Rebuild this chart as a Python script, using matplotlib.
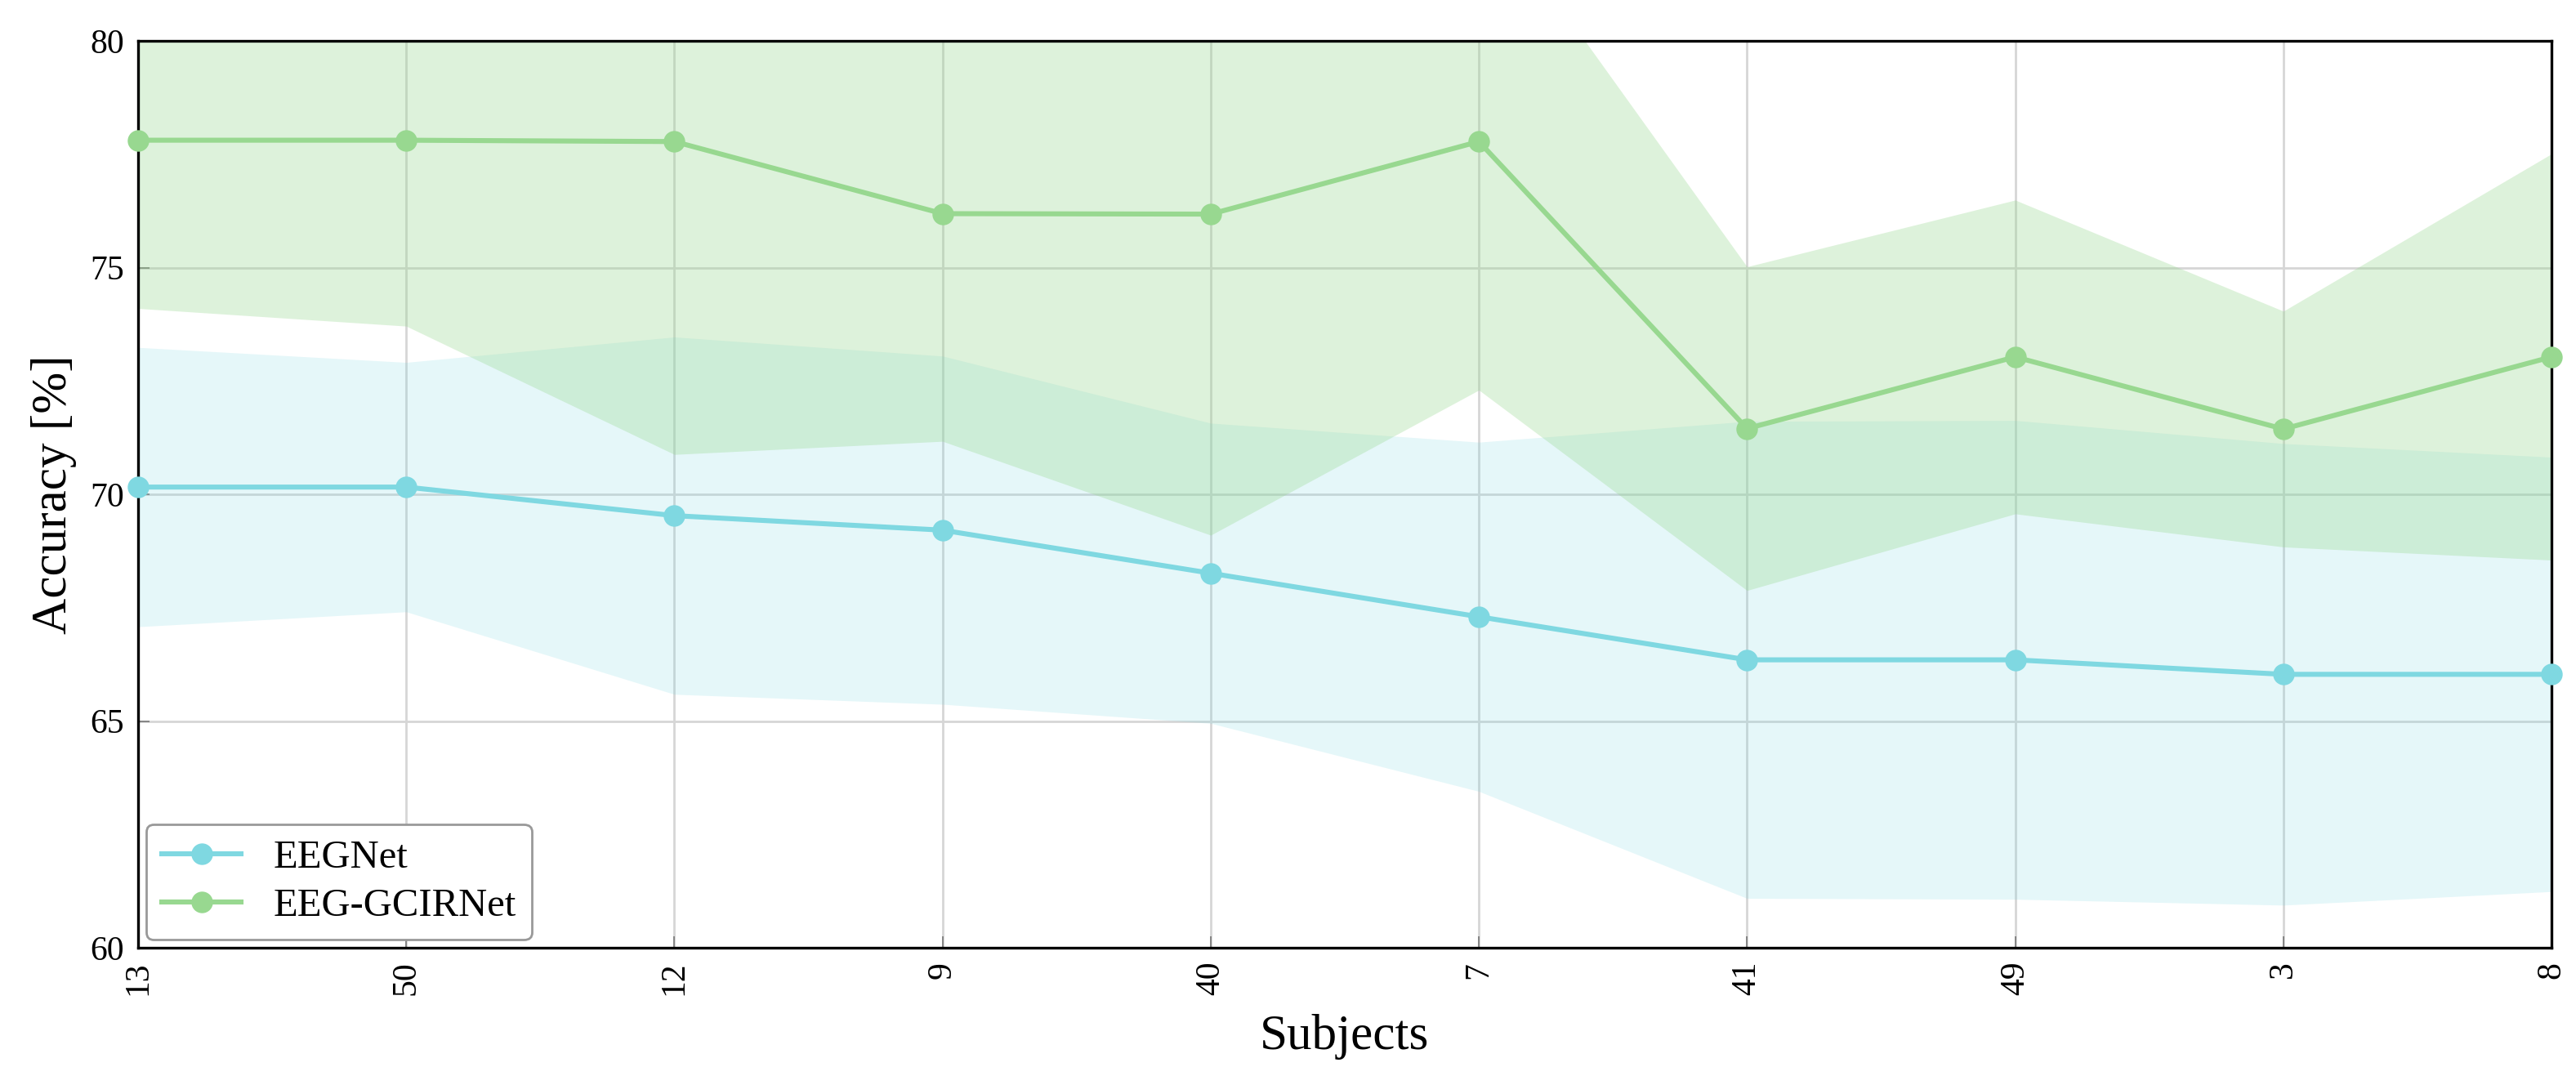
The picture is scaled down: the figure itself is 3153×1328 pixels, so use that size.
import matplotlib
matplotlib.use("Agg")
import matplotlib.pyplot as plt
import numpy as np

subjects = ["13", "50", "12", "9", "40", "7", "41", "49", "3", "8"]

eegnet_mean = [70.16, 70.16, 69.53, 69.21, 68.26, 67.30, 66.35, 66.35, 66.03, 66.03]
eegnet_std = [3.08, 2.75, 3.94, 3.84, 3.31, 3.85, 5.26, 5.28, 5.09, 4.79]

gcir_mean = [77.81, 77.81, 77.78, 76.19, 76.18, 77.78, 71.45, 73.03, 71.44, 73.03]
gcir_std = [3.71, 4.10, 6.90, 5.02, 7.08, 5.48, 3.57, 3.46, 2.60, 4.48]

yticks = [60, 65, 70, 75, 80]

plt.rcParams['font.family'] = ['Liberation Serif', 'DejaVu Serif']

blue = "#7fd8e1"
green = "#98d890"

fig = plt.figure(figsize=(15.765, 6.64), dpi=200)
ax = fig.add_axes([0.0536, 0.1265, 0.9369, 0.8358])

x = np.arange(len(subjects))
for mean, std, col, a, name in [(eegnet_mean, eegnet_std, blue, 0.2, "EEGNet"),
                                (gcir_mean, gcir_std, green, 0.32, "EEG-GCIRNet")]:
    m = np.array(mean)
    s = np.array(std)
    ax.fill_between(x, m - s, m + s, color=col, alpha=a, linewidth=0, zorder=1)
    ax.plot(x, m, color=col, lw=2.2, marker="o", markersize=8.5,
            label=name, clip_on=False, zorder=3)

ax.set_xlim(0, len(subjects) - 1)
ax.set_ylim(60, 80)
ax.set_xticks(x)
ax.set_xticklabels(subjects, rotation=90, fontsize=15)
ax.set_yticks(yticks)
ax.set_yticklabels([str(v) for v in yticks], fontsize=15)
ax.tick_params(direction="in", length=5, width=0.6, color="#777777", pad=6)

ax.grid(True, color="#d6d6d6", linewidth=1.0, zorder=0)
ax.set_axisbelow(True)
for sp in ax.spines.values():
    sp.set_linewidth(1.2)
    sp.set_color("black")

ax.set_xlabel("Subjects", fontsize=22, labelpad=8)
ax.set_ylabel("Accuracy [%]", fontsize=22, labelpad=6)

leg = ax.legend(loc="lower left", fontsize=17.5, frameon=True, fancybox=True,
                edgecolor="#999999", framealpha=1.0, borderaxespad=0.2,
                handlelength=2.0, labelspacing=0.3)
leg.get_frame().set_linewidth(1.0)

fig.savefig("out.png", dpi=200)
